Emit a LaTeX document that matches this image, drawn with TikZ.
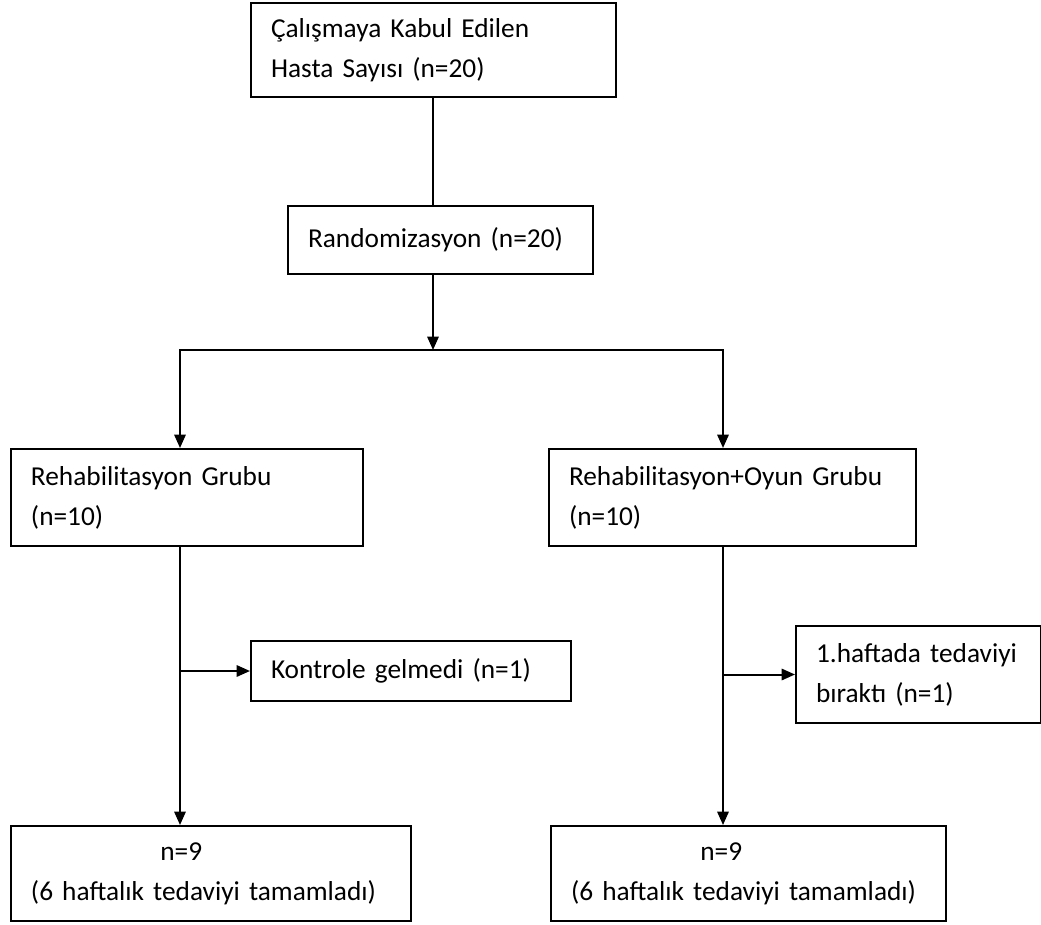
\documentclass[tikz,border=0pt]{standalone}
\usepackage{fontspec}
\setmainfont{Carlito}
\usetikzlibrary{arrows.meta}

\tikzstyle{block} = [draw, fill=white, rectangle, line width=1.5pt,
    anchor=north west, inner xsep=15pt, align=left,
    font=\fontsize{20.5}{30}\selectfont]
\tikzstyle{line} = [line width=1.5pt]
\tikzstyle{arr} = [line, -{Triangle[length=10pt,width=8.5pt]}]

\begin{document}
\begin{tikzpicture}[x=0.75pt, y=-0.75pt]
          \useasboundingbox (0,0) rectangle (1041,924);
          \node (kabul) [block, text width=243.75pt, minimum height=70.5pt] at (250,2) {Çalışmaya Kabul Edilen\\Hasta Sayısı (n=20)};
          \node (rand) [block, text width=198.75pt, minimum height=51pt] at (287,205) {Randomizasyon (n=20)};
          \node (rehab) [block, text width=234pt, minimum height=72.75pt] at (10,448) {Rehabilitasyon Grubu\\(n=10)};
          \node (oyun) [block, text width=245.25pt, minimum height=72.75pt] at (548,448) {Rehabilitasyon+Oyun Grubu\\(n=10)};
          \node (kontrol) [block, text width=210pt, minimum height=45pt] at (250,640) {Kontrole gelmedi (n=1)};
          \node (birak) [block, text width=153.75pt, minimum height=72.75pt] at (795,625) {1.haftada tedaviyi\\bıraktı (n=1)};
          \node (rehabson) [block, text width=270pt, minimum height=71.25pt] at (10,825) {\hspace{97pt}n=9\\(6 haftalık tedaviyi tamamladı)};
          \node (oyunson) [block, text width=266.25pt, minimum height=71.25pt] at (550,825) {\hspace{97pt}n=9\\(6 haftalık tedaviyi tamamladı)};

          \coordinate (split) at (433,350);
          \coordinate (lx) at (180,0);
          \coordinate (rx) at (723,0);

          \draw [line] (kabul.south -| split) -- (rand.north -| split);
          \draw [arr] (rand.south -| split) -- (split);
          \draw [arr] (split) -| (lx |- rehab.north);
          \draw [arr] (split) -| (rx |- oyun.north);
          \draw [arr] (lx |- rehab.south) -- (lx |- rehabson.north);
          \draw [arr] (lx |- kontrol.west) -- (kontrol.west);
          \draw [arr] (rx |- oyun.south) -- (rx |- oyunson.north);
          \draw [arr] (rx |- birak.west) -- (birak.west);
        \end{tikzpicture}
\end{document}
